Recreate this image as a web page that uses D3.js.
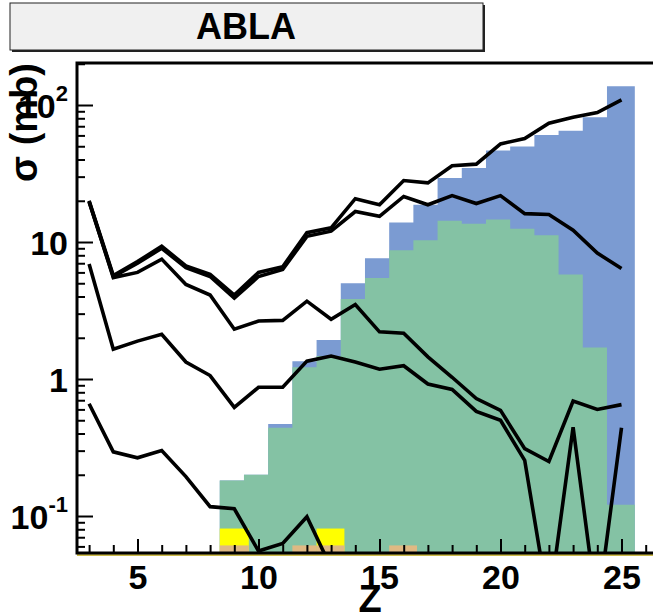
<!DOCTYPE html>
<html>
<head>
<meta charset="utf-8">
<script src="https://cdn.jsdelivr.net/npm/d3@7"></script>
<style>
  body { margin: 0; background: #fff; }
  svg { display: block; }
  text { font-family: "Liberation Sans", Arial, sans-serif; font-weight: bold; }
</style>
</head>
<body>
<script>
// Z values of the model curves
const zLine = [3, 4, 5, 6, 7, 8, 9, 10, 11, 12, 13, 14, 15, 16, 17, 18, 19, 20, 21, 22, 23, 24, 25]
const curve1 = [20.0, 5.7, 7.2, 9.3, 6.7, 5.8, 4.1, 6.0, 6.6, 11.7, 12.7, 20.7, 18.7, 28.1, 27.0, 36.0, 37.0, 52.0, 57.0, 73.6, 81.4, 88.0, 109.0]
const curve2 = [19.6, 5.6, 7.0, 9.0, 6.5, 5.6, 3.9, 5.6, 6.3, 11.0, 12.0, 16.7, 15.4, 21.5, 18.7, 21.8, 19.1, 21.8, 16.1, 15.9, 12.2, 8.3, 6.4]
const curve3 = [19.8, 5.5, 6.0, 7.5, 4.9, 4.1, 2.31, 2.65, 2.68, 3.7, 2.73, 3.5, 2.21, 2.16, 1.45, 1.03, 0.72, 0.59, 0.31, 0.25, 0.69, 0.6, 0.65]
const curve4 = [6.9, 1.65, 1.89, 2.12, 1.33, 1.06, 0.62, 0.87, 0.87, 1.35, 1.47, 1.33, 1.18, 1.25, 0.92, 0.84, 0.58, 0.50, 0.255, 0.022, 0.445, 0.02, 0.44]
const curve5 = [0.66, 0.294, 0.266, 0.30, 0.194, 0.117, 0.113, 0.0555, 0.063, 0.0987, 0.042, 0.04, 0.04, 0.04, 0.04, 0.04, 0.04, 0.04, 0.04, 0.04, 0.04, 0.04, 0.04]

// histograms (bin edges in Z)
const binEdges = [8.4, 9.4, 10.4, 11.4, 12.4, 13.4, 14.4, 15.4, 16.4, 17.4, 18.4, 19.4, 20.4, 21.4, 22.4, 23.4, 24.4, 25.55]
const blueVals = [0.182, 0.2, 0.47, 1.35, 1.93, 5.0, 7.6, 13.9, 18.7, 29.3, 34.7, 46.5, 49.8, 60.5, 65, 81.4, 137]
const greenVals = [0.182, 0.2, 0.44, 1.22, 1.47, 3.84, 5.46, 8.7, 10.3, 14.3, 13.6, 14.6, 12.5, 11.2, 5.8, 1.7, 0.121]
const yellowLo = [8.4, 12.4]
const yellowHi = [9.6, 13.55]
const yellowVals = [0.081, 0.081]
const tanLo = [8.4, 11.4, 12.4, 15.4]
const tanHi = [9.6, 12.4, 13.55, 16.55]
const tanVals = [0.061, 0.061, 0.061, 0.061]

// axis ticks
const xMajor = [5, 10, 15, 20, 25]
const xMinor = [3, 4, 6, 7, 8, 9, 11, 12, 13, 14, 16, 17, 18, 19, 21, 22, 23, 24, 26]
const yMajor = [0.1, 1, 10, 100]
const yLabels = [["10", "-1"], ["1", ""], ["10", ""], ["10", "2"]]

const W = 653, H = 613
const padLeft = 77, padTop = 63, padBottom = 553

const x = d3.scaleLinear().domain([2.5, 26.5]).range([padLeft, 657.8])
const y = d3.scaleLog().domain([0.0537, 202.6]).range([padBottom, padTop])

const yMinor = []
;[0.01, 0.1, 1, 10, 100].forEach(d => {
    for (let m = 2; m <= 9; m++) {
        const v = d * m
        if (v > y.domain()[0] && v < y.domain()[1]) yMinor.push(v)
    }
})

const svg = d3.select('body').append('svg')
    .attr('width', W)
    .attr('height', H)

svg.append('defs').append('clipPath').attr('id', 'plot')
    .append('rect')
    .attr('x', padLeft).attr('y', padTop)
    .attr('width', W - padLeft).attr('height', padBottom - padTop)

const plot = svg.append('g').attr('clip-path', 'url(#plot)')

// filled histograms
const histArea = d3.area()
    .x(d => x(d[0]))
    .y0(padBottom)
    .y1(d => y(d[1]))
    .curve(d3.curveStepAfter)
const stepPoints = vals => binEdges.map((e, i) => [e, vals[Math.min(i, vals.length - 1)]])

plot.append('path')
    .datum(stepPoints(blueVals))
    .attr('fill', '#7b9bd2')
    .attr('d', histArea)
plot.append('path')
    .datum(stepPoints(greenVals))
    .attr('fill', '#84c2a4')
    .attr('d', histArea)

plot.selectAll('rect.yellow')
    .data(yellowVals)
    .join('rect')
    .attr('class', 'yellow')
    .attr('x', (d, i) => x(yellowLo[i]))
    .attr('width', (d, i) => x(yellowHi[i]) - x(yellowLo[i]))
    .attr('y', d => y(d))
    .attr('height', d => padBottom - y(d))
    .attr('fill', '#ffff00')
plot.selectAll('rect.tan')
    .data(tanVals)
    .join('rect')
    .attr('class', 'tan')
    .attr('x', (d, i) => x(tanLo[i]))
    .attr('width', (d, i) => x(tanHi[i]) - x(tanLo[i]))
    .attr('y', d => y(d))
    .attr('height', d => padBottom - y(d))
    .attr('fill', '#dfb983')

// thin olive line along the bottom
svg.append('line')
    .attr('x1', padLeft).attr('x2', W)
    .attr('y1', padBottom + 2).attr('y2', padBottom + 2)
    .attr('stroke', '#cdbb4a').attr('stroke-width', 2)

// ticks
const yMinAxis = svg.append('g')
    .attr('transform', `translate(${padLeft},0)`)
    .call(d3.axisLeft(y).tickValues(yMinor).tickSize(-8).tickSizeOuter(0).tickFormat(''))
const yMajAxis = svg.append('g')
    .attr('transform', `translate(${padLeft},0)`)
    .call(d3.axisLeft(y).tickValues(yMajor).tickSize(-16).tickSizeOuter(0).tickFormat(''))
const xMinAxis = svg.append('g')
    .attr('transform', `translate(0,${padBottom})`)
    .call(d3.axisBottom(x).tickValues(xMinor).tickSize(-8).tickSizeOuter(0).tickFormat(''))
const xMajAxis = svg.append('g')
    .attr('transform', `translate(0,${padBottom})`)
    .call(d3.axisBottom(x).tickValues(xMajor).tickSize(-14).tickSizeOuter(0).tickPadding(12))
;[yMinAxis, yMajAxis, xMinAxis, xMajAxis].forEach(g => {
    g.select('.domain').remove()
    g.selectAll('.tick line').attr('stroke', '#000').attr('stroke-width', 2)
})
xMajAxis.selectAll('.tick text')
    .attr('font-size', 34)
    .attr('fill', '#000')

// y tick labels with exponents
yMajAxis.selectAll('.tick').each(function (d, i) {
    d3.select(this).select('text').remove()
    const t = d3.select(this).append('text')
        .attr('x', -9)
        .attr('dy', '0.36em')
        .attr('text-anchor', 'end')
        .attr('font-size', 34)
        .attr('fill', '#000')
    t.append('tspan').text(yLabels[i][0])
    if (yLabels[i][1]) {
        t.append('tspan')
            .attr('font-size', 22)
            .attr('dy', '-0.75em')
            .text(yLabels[i][1])
    }
})

// frame
svg.append('path')
    .attr('d', `M${W},${padTop}H${padLeft}V${padBottom}H${W}`)
    .attr('fill', 'none')
    .attr('stroke', '#000')
    .attr('stroke-width', 3)

// model curves
const line = d3.line()
    .x((d, i) => x(zLine[i]))
    .y(d => y(d))
const curves = [curve5, curve4, curve3, curve2, curve1]
plot.selectAll('path.curve')
    .data(curves)
    .join('path')
    .attr('class', 'curve')
    .attr('fill', 'none')
    .attr('stroke', '#000')
    .attr('stroke-width', 3.6)
    .attr('stroke-linejoin', 'miter')
    .attr('d', line)

// axis titles
svg.append('text')
    .attr('transform', `translate(37,${padTop}) rotate(-90)`)
    .attr('text-anchor', 'end')
    .attr('font-size', 38)
    .text('σ (mb)')
svg.append('text')
    .attr('x', 370)
    .attr('y', 612)
    .attr('text-anchor', 'middle')
    .attr('font-size', 38)
    .text('Z')

// title box
svg.append('rect')
    .attr('x', 12).attr('y', 5)
    .attr('width', 473).attr('height', 47)
    .attr('fill', '#222')
svg.append('rect')
    .attr('x', 10).attr('y', 3)
    .attr('width', 473).attr('height', 47)
    .attr('fill', '#f0f0f0')
    .attr('stroke', '#222')
    .attr('stroke-width', 1)
svg.append('text')
    .attr('x', 246)
    .attr('y', 39)
    .attr('text-anchor', 'middle')
    .attr('font-size', 36)
    .text('ABLA')
</script>
</body>
</html>
